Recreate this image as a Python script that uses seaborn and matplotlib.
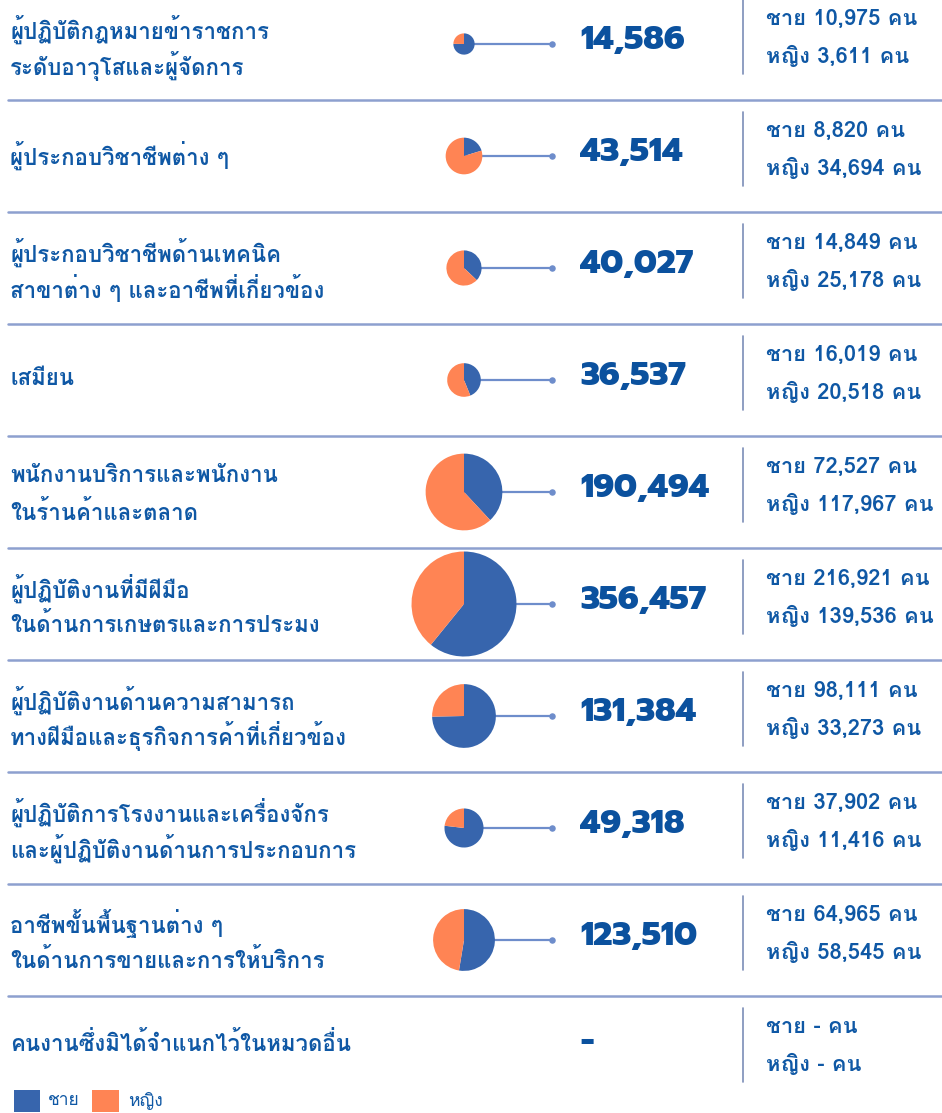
import matplotlib
matplotlib.use("Agg")
import matplotlib.pyplot as plt
import matplotlib.patheffects as pe
from matplotlib import font_manager as fm
from matplotlib.patches import Rectangle
import seaborn as sns
import numpy as np

# ---- data ----
categories = [
    "ผู้ปฏิบัติกฎหมายข้าราชการ\nระดับอาวุโสและผู้จัดการ",
    "ผู้ประกอบวิชาชีพต่าง ๆ",
    "ผู้ประกอบวิชาชีพด้านเทคนิค\nสาขาต่าง ๆ และอาชีพที่เกี่ยวข้อง",
    "เสมียน",
    "พนักงานบริการและพนักงาน\nในร้านค้าและตลาด",
    "ผู้ปฏิบัติงานที่มีฝีมือ\nในด้านการเกษตรและการประมง",
    "ผู้ปฏิบัติงานด้านความสามารถ\nทางฝีมือและธุรกิจการค้าที่เกี่ยวข้อง",
    "ผู้ปฏิบัติการโรงงานและเครื่องจักร\nและผู้ปฏิบัติงานด้านการประกอบการ",
    "อาชีพขั้นพื้นฐานต่าง ๆ\nในด้านการขายและการให้บริการ",
    "คนงานซึ่งมิได้จำแนกไว้ในหมวดอื่น",
]
male = [10975, 8820, 14849, 16019, 72527, 216921, 98111, 37902, 64965, None]
female = [3611, 34694, 25178, 20518, 117967, 139536, 33273, 11416, 58545, None]
totals = [14586, 43514, 40027, 36537, 190494, 356457, 131384, 49318, 123510, None]
legend_labels = ["ชาย", "หญิง"]
unit = "คน"

# ---- style ----
sns.set_theme(style="white")
pal = sns.color_palette(["#3765AD", "#FF8454"])
TEXT = "#0F58A5"
NUM = "#0B519E"
SEP = "#8DA0CF"
LINK = "#6E8DCB"
VLINE = "#7C8DB8"
LABEL_FONT = ["Loma", "Noto Sans Thai Looped", "DejaVu Sans"]
NUM_FONT = ["Prompt", "DejaVu Sans"]
plt.rcParams["font.family"] = LABEL_FONT

# does Loma have a real bold face?
try:
    _bp = fm.findfont(fm.FontProperties(family="Loma", weight="bold"), fallback_to_default=False)
    HAS_BOLD = "bold" in _bp.lower()
except Exception:
    HAS_BOLD = False
LBL_WEIGHT = "bold" if HAS_BOLD else "normal"
LBL_FX = [] if HAS_BOLD else [pe.withStroke(linewidth=0.7, foreground=TEXT)]

W, H = 942, 1113
fig = plt.figure(figsize=(W / 100, H / 100), dpi=100)
ax = fig.add_axes([0, 0, 1, 1])

def Y(yp):
    return H - yp

row_centers = [44 + 112 * i for i in range(len(categories))]
max_total = max(t for t in totals if t is not None)
R_MAX = 52.5
PIE_X = 464

for i, (cat, m, f, t) in enumerate(zip(categories, male, female, totals)):
    yc = row_centers[i]
    # left label (one text per line)
    lines = cat.split("\n")
    if len(lines) == 2:
        offs = [-16, 20] if i > 0 else [-15, 22]
    else:
        offs = [-1] if i < len(categories) - 1 else [-9]
    for ln, o in zip(lines, offs):
        ax.text(10, Y(yc + o), ln, ha="left", va="center", color=TEXT,
                fontsize=16, fontweight=LBL_WEIGHT, family=LABEL_FONT,
                path_effects=LBL_FX)
    if t is not None:
        r = R_MAX * np.sqrt(t / max_total)
        ax.plot([PIE_X, 552], [Y(yc), Y(yc)], color=LINK, lw=1.6, zorder=1)
        ax.scatter([552], [Y(yc)], s=22, color=LINK, zorder=2, linewidths=0)
        ax.pie([m, f], colors=pal, startangle=90, counterclock=False,
               center=(PIE_X, Y(yc)), radius=r,
               wedgeprops=dict(linewidth=0), frame=True)
        ax.text(580, Y(yc - 4), f"{t:,}", ha="left", va="center", color=NUM,
                fontsize=23.5, fontweight=800, family=NUM_FONT)
        mtxt, ftxt = f"{m:,}", f"{f:,}"
    else:
        ax.text(580, Y(yc - 9), "-", ha="left", va="center", color=NUM,
                fontsize=23.5, fontweight=800, family=NUM_FONT)
        mtxt, ftxt = "-", "-"
    # vertical divider
    ax.plot([743, 743], [Y(yc - 44), Y(yc + 30)], color=VLINE, lw=1.2)
    ax.text(766, Y(yc - 25), f"{legend_labels[0]} {mtxt} {unit}", ha="left", va="center",
            color=TEXT, fontsize=15.8, fontweight=LBL_WEIGHT, family=LABEL_FONT,
            path_effects=LBL_FX)
    ax.text(766, Y(yc + 12), f"{legend_labels[1]} {ftxt} {unit}", ha="left", va="center",
            color=TEXT, fontsize=15.8, fontweight=LBL_WEIGHT, family=LABEL_FONT,
            path_effects=LBL_FX)
    # separator
    if i < len(categories) - 1:
        ax.plot([8, 942], [Y(yc + 56), Y(yc + 56)], color=SEP, lw=1.8)

# legend
ax.add_patch(Rectangle((14, Y(1112)), 26, 22, color=pal[0], lw=0))
ax.text(48, Y(1101), legend_labels[0], ha="left", va="center", color=TEXT,
        fontsize=12.5, family=LABEL_FONT)
ax.add_patch(Rectangle((92, Y(1112)), 27, 22, color=pal[1], lw=0))
ax.text(128, Y(1101), legend_labels[1], ha="left", va="center", color=TEXT,
        fontsize=12.5, family=LABEL_FONT)

ax.set_xlim(0, W)
ax.set_ylim(0, H)
ax.set_aspect("auto")
ax.set_axis_off()
fig.savefig("out.png", dpi=100, facecolor="white")
